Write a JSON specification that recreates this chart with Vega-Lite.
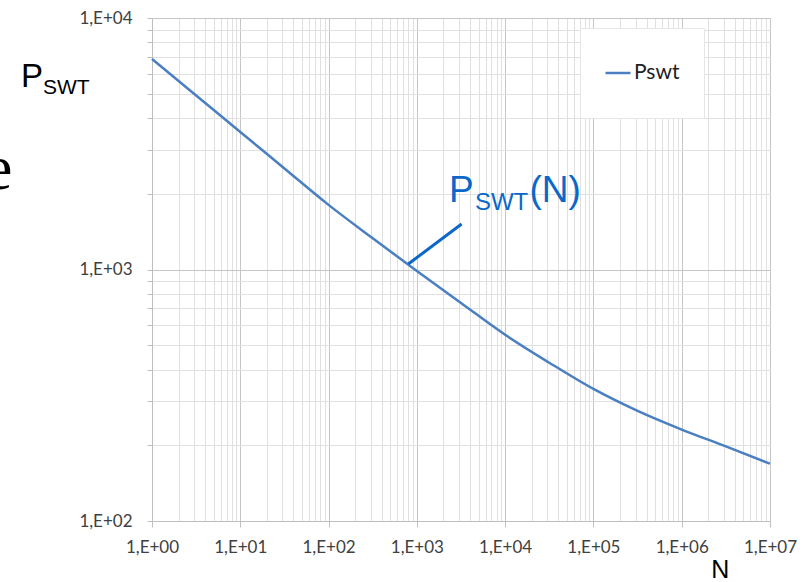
{
  "$schema": "https://vega.github.io/schema/vega-lite/v6.json",
  "width": 618,
  "height": 503,
  "autosize": {"type": "none"},
  "padding": {"left": 152, "top": 18, "right": 33, "bottom": 61},
  "background": "white",
  "config": {"view": {"stroke": null}},
  "encoding": {
    "x": {
      "field": "N",
      "type": "quantitative",
      "scale": {"type": "log", "domain": [1, 10000000], "nice": false},
      "axis": {
        "title": null,
        "values": [1,2,3,4,5,6,7,8,9,10,20,30,40,50,60,70,80,90,100,200,300,400,500,600,700,800,900,1000,2000,3000,4000,5000,6000,7000,8000,9000,10000,20000,30000,40000,50000,60000,70000,80000,90000,100000,200000,300000,400000,500000,600000,700000,800000,900000,1000000,2000000,3000000,4000000,5000000,6000000,7000000,8000000,9000000,10000000],
        "labelExpr": "abs(log(datum.value)/LN10 - round(log(datum.value)/LN10)) < 0.000001 ? '1,E+0' + round(log(datum.value)/LN10) : ''",
        "labelFont": "Lato",
        "labelFontSize": 17,
        "labelColor": "#404040",
        "labelPadding": 12,
        "labelOverlap": false,
        "labelFlush": false,
        "tickSize": 6,
        "tickColor": {"condition": {"test": "abs(log(datum.value)/LN10 - round(log(datum.value)/LN10)) < 0.000001", "value": "#bfbfbf"}, "value": "transparent"},
        "domainColor": "#bfbfbf",
        "grid": true,
        "gridColor": {"condition": {"test": "abs(log(datum.value)/LN10 - round(log(datum.value)/LN10)) < 0.000001", "value": "#c6c6c6"}, "value": "#e0e0e0"}
      }
    },
    "y": {
      "field": "P",
      "type": "quantitative",
      "scale": {"type": "log", "domain": [100, 10000], "nice": false},
      "axis": {
        "title": null,
        "values": [100,200,300,400,500,600,700,800,900,1000,2000,3000,4000,5000,6000,7000,8000,9000,10000],
        "labelExpr": "abs(log(datum.value)/LN10 - round(log(datum.value)/LN10)) < 0.000001 ? '1,E+0' + round(log(datum.value)/LN10) : ''",
        "labelFont": "Lato",
        "labelFontSize": 17,
        "labelColor": "#404040",
        "labelPadding": 15,
        "labelOverlap": false,
        "labelFlush": false,
        "tickSize": 5,
        "tickColor": "#bfbfbf",
        "domainColor": "#bfbfbf",
        "grid": true,
        "gridColor": {"condition": {"test": "abs(log(datum.value)/LN10 - round(log(datum.value)/LN10)) < 0.000001", "value": "#c6c6c6"}, "value": "#e0e0e0"}
      }
    }
  },
  "layer": [
    {
      "data": {"values": [
        {"N": 1, "P": 6870, "series": "Pswt"},
        {"N": 3.162, "P": 4920, "series": "Pswt"},
        {"N": 10, "P": 3524, "series": "Pswt"},
        {"N": 31.62, "P": 2523, "series": "Pswt"},
        {"N": 100, "P": 1807, "series": "Pswt"},
        {"N": 316.2, "P": 1331, "series": "Pswt"},
        {"N": 1000, "P": 986, "series": "Pswt"},
        {"N": 3162, "P": 736, "series": "Pswt"},
        {"N": 10000, "P": 550, "series": "Pswt"},
        {"N": 31623, "P": 426, "series": "Pswt"},
        {"N": 100000, "P": 335, "series": "Pswt"},
        {"N": 316228, "P": 274, "series": "Pswt"},
        {"N": 1000000, "P": 231, "series": "Pswt"},
        {"N": 3162278, "P": 198, "series": "Pswt"},
        {"N": 10000000, "P": 169, "series": "Pswt"}
      ]},
      "mark": {"type": "line", "strokeWidth": 2.5, "interpolate": "monotone"},
      "encoding": {
        "color": {
          "field": "series",
          "type": "nominal",
          "scale": {"range": ["#4a7fc1"]},
          "legend": {
            "title": null,
            "orient": "none",
            "legendX": 428,
            "legendY": 10,
            "fillColor": "white",
            "strokeColor": "#e6e6e6",
            "padding": 24,
            "clipHeight": 42,
            "symbolType": "stroke",
            "symbolSize": 625,
            "symbolStrokeWidth": 2.5,
            "labelFont": "Lato",
            "labelFontSize": 21,
            "labelColor": "#222222",
            "labelOffset": 2
          }
        }
      }
    },
    {
      "data": {"values": [{"N": 3214, "P": 1517, "N2": 799, "P2": 1051}]},
      "mark": {"type": "rule", "color": "#0b68c9", "strokeWidth": 3},
      "encoding": {"x2": {"field": "N2"}, "y2": {"field": "P2"}}
    },
    {
      "data": {"values": [{"N": 2311, "P": 1860, "t": "P"}, {"N": 18840, "P": 1860, "t": "(N)"}]},
      "mark": {"type": "text", "font": "Liberation Sans", "fontSize": 37, "align": "left", "baseline": "alphabetic", "color": "#0b68c9"},
      "encoding": {"text": {"field": "t"}}
    },
    {
      "data": {"values": [{"N": 4550, "P": 1724, "t": "SWT"}]},
      "mark": {"type": "text", "font": "Liberation Sans", "fontSize": 24, "align": "left", "baseline": "alphabetic", "color": "#0b68c9"},
      "encoding": {"text": {"field": "t"}}
    },
    {
      "data": {"values": [{"N": 0.0328, "P": 5320, "t": "P"}]},
      "mark": {"type": "text", "font": "Liberation Sans", "fontSize": 33, "align": "left", "baseline": "alphabetic", "color": "#000000"},
      "encoding": {"text": {"field": "t"}}
    },
    {
      "data": {"values": [{"N": 0.0583, "P": 4990, "t": "SWT"}]},
      "mark": {"type": "text", "font": "Liberation Sans", "fontSize": 21, "align": "left", "baseline": "alphabetic", "color": "#000000"},
      "encoding": {"text": {"field": "t"}}
    },
    {
      "data": {"values": [{"N": 0.0263, "P": 2089, "t": "e"}]},
      "mark": {"type": "text", "font": "Liberation Serif", "fontSize": 64, "align": "right", "baseline": "alphabetic", "color": "#000000"},
      "encoding": {"text": {"field": "t"}}
    },
    {
      "data": {"values": [{"N": 2158000, "P": 59.5, "t": "N"}]},
      "mark": {"type": "text", "font": "Liberation Sans", "fontSize": 25, "align": "left", "baseline": "alphabetic", "color": "#000000"},
      "encoding": {"text": {"field": "t"}}
    }
  ]
}
